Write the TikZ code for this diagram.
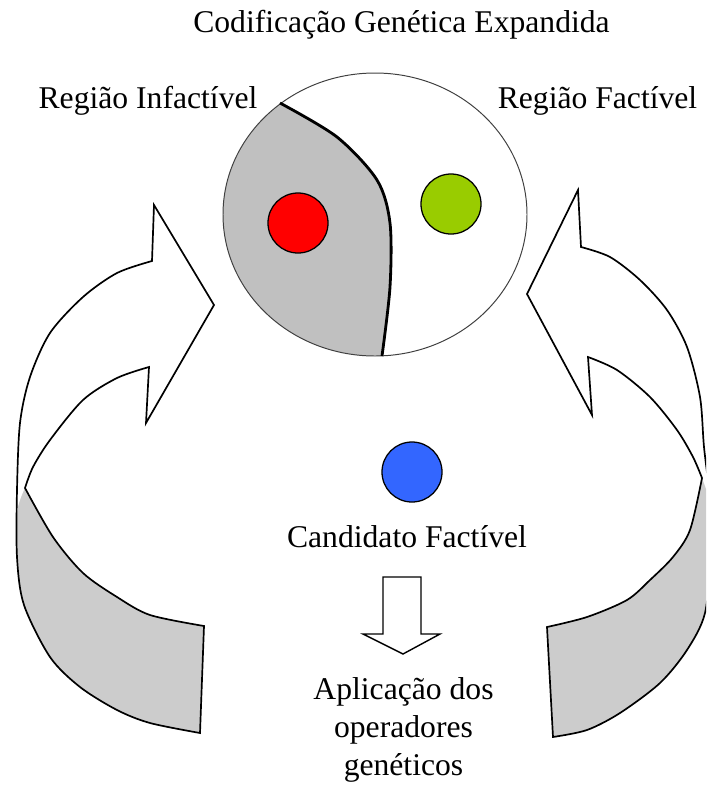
\documentclass[tikz,border=0pt]{standalone}
\usepackage{fontspec}
\setmainfont{Liberation Serif}
\usepackage{xcolor}
\definecolor{infgray}{HTML}{C0C0C0}
\definecolor{backgray}{HTML}{CCCCCC}
\definecolor{feasgreen}{HTML}{99CC00}
\definecolor{candblue}{HTML}{3366FF}

\begin{document}
\begin{tikzpicture}[x=0.025cm,y=-0.025cm,
        lbl/.style={font=\fontsize{22.5}{26.7}\selectfont,inner sep=0pt,anchor=base},
        dot/.style={circle,draw,line width=0.9pt,minimum size=1.5cm,inner sep=0pt},
        arrowline/.style={line width=1.2pt,line join=miter},
        arrowback/.style={fill=backgray}]
                \useasboundingbox (0,0) rectangle (706,785);
                \clip (0,0) rectangle (706,785);
                % espaco de busca
                \begin{scope}
                    \clip (375,214.5) ellipse [x radius=152, y radius=141.5];
                    \fill[infgray] plot[smooth] coordinates {(280,103) (337,137) (377,180) (390,223) (390,287) (382,356)} -- (382,380) -- (200,380) -- (200,50) -- (262,60) -- cycle;
                \end{scope}
                \draw[black!75,line width=0.7pt] (375,214.5) ellipse [x radius=152, y radius=141.5];
                \draw[line width=2pt] plot[smooth] coordinates {(280,103) (337,137) (377,180) (390,223) (390,287) (382,356)};
                \node[dot,fill=red] (infeasible) at (298,223) {};
                \node[dot,fill=feasgreen] (feasible) at (451,204) {};
                \node[dot,fill=candblue] (candidate) at (412,472) {};
                % seta da esquerda
                \fill[arrowback] plot[smooth] coordinates {(25,488) (17,512) (17,557) (24,605) (50,657) (80,687) (117,710) (150,723) (200,733)} -- (204,626) -- plot[smooth] coordinates {(204,626) (150,615) (117,597) (83,573) (53,537) (25,488)} -- cycle;
                \draw[arrowline] plot[smooth] coordinates {(152,261) (117,273) (83,297) (50,333) (30,377) (20,423) (17,490) (17,557) (24,605) (50,657) (80,687) (117,710) (150,723) (200,733)}
                    -- (204,626) -- plot[smooth] coordinates {(204,626) (150,615) (117,597) (83,573) (53,537) (25,488)}
                    -- plot[smooth] coordinates {(25,488) (33,467) (50,440) (83,400) (117,378) (149,367)}
                    -- (146,423) -- (214,305) -- (154,205) -- cycle;
                % seta da direita
                \fill[arrowback] plot[smooth] coordinates {(702,478) (690,530) (673,557) (650,580) (627,600) (587,617) (547,627)} -- (553,737) -- plot[smooth] coordinates {(553,737) (587,730) (620,713) (660,683) (687,650) (705,613) (711,550) (710,500)} -- cycle;
                \draw[arrowline] plot[smooth] coordinates {(581,247) (610,257) (640,280) (667,310) (687,347) (700,397) (704,447) (710,500) (711,550) (705,613) (687,650) (660,683) (620,713) (587,730) (553,737)}
                    -- (547,627) -- plot[smooth] coordinates {(547,627) (587,617) (627,600) (650,580) (673,557) (690,530) (702,478)}
                    -- plot[smooth] coordinates {(702,478) (693,457) (677,430) (650,397) (617,370) (588,357)}
                    -- (592,415) -- (527,294) -- (578,190) -- cycle;
                % textos
                \node[lbl] (title) at (401.5,32) {Codificação Genética Expandida};
                \node[lbl] (infregion) at (148,108) {Região Infactível};
                \node[lbl] (feasregion) at (597.5,108) {Região Factível};
                \node[lbl] (candlabel) at (407,547) {Candidato Factível};
                \node[lbl,align=center] (operators) at (403.5,775) {Aplicação dos\\operadores\\genéticos};
                \coordinate (downtop) at (402,577);
                \draw[line width=1pt] (downtop) ++(-19,0) -- ++(38,0) -- ++(0,57) -- ++(19,0) -- (403,654) -- (363,634) -- (383,634) -- cycle;
            \end{tikzpicture}
\end{document}
